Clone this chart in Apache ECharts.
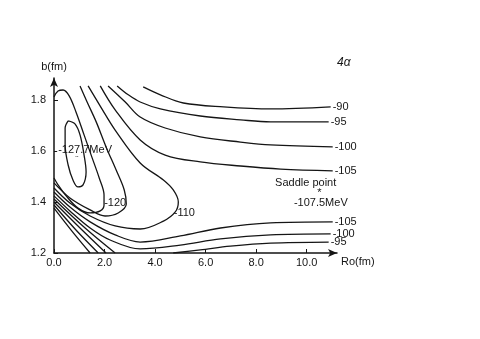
<!DOCTYPE html>
<html>
<head>
<meta charset="utf-8">
<script src="https://cdn.jsdelivr.net/npm/echarts@6/dist/echarts.min.js"></script>
<style>
  html, body { margin: 0; padding: 0; background: #fff; }
  #chart { width: 480px; height: 339px; }
</style>
</head>
<body>
<div id="chart"></div>
<script>
// axis ticks
const xTickLabels = ['0.0', '2.0', '4.0', '6.0', '8.0', '10.0']
const yTickLabels = ['1.2', '1.4', '1.6', '1.8']

// contour lines, points as [Ro (fm), b (fm)]
const c125 = [[0.56, 1.718], [0.83, 1.706], [1.03, 1.663], [1.19, 1.584], [1.27, 1.518], [1.15, 1.467],
  [0.95, 1.459], [0.75, 1.486], [0.56, 1.545], [0.44, 1.624], [0.44, 1.690], [0.56, 1.718]]
const c120 = [[0, 1.812], [0.16, 1.835], [0.36, 1.839], [0.60, 1.816], [0.87, 1.753], [1.19, 1.663],
  [1.51, 1.573], [1.79, 1.494], [1.98, 1.427], [1.98, 1.388], [1.83, 1.365], [1.43, 1.357],
  [0.95, 1.376], [0.48, 1.424], [0.16, 1.467], [0, 1.494]]
const c115 = [[0, 1.475], [0.63, 1.416], [1.43, 1.369], [2.02, 1.345], [2.54, 1.357], [2.86, 1.392],
  [2.78, 1.447], [2.46, 1.525], [2.06, 1.616], [1.67, 1.714], [1.31, 1.792], [1.03, 1.855]]
const c110 = [[0, 1.455], [0.63, 1.396], [1.43, 1.345], [2.42, 1.306], [3.41, 1.294], [4.33, 1.325],
  [4.80, 1.361], [4.92, 1.400], [4.72, 1.447], [4.33, 1.486], [3.41, 1.553], [2.42, 1.682],
  [1.83, 1.776], [1.35, 1.855]]
const upper105 = [[1.83, 1.855], [2.42, 1.761], [3.41, 1.643], [4.40, 1.584], [5.79, 1.557],
  [7.38, 1.541], [8.97, 1.529], [11.03, 1.522]]
const upper100 = [[2.14, 1.855], [2.82, 1.792], [3.41, 1.733], [4.40, 1.690], [5.79, 1.655],
  [7.38, 1.635], [8.57, 1.624], [11.03, 1.616]]
const upper95 = [[2.50, 1.855], [2.94, 1.820], [3.41, 1.792], [4.21, 1.765], [5.79, 1.737],
  [7.38, 1.722], [8.57, 1.714], [10.87, 1.714]]
const upper90 = [[3.53, 1.851], [4.21, 1.820], [5.12, 1.788], [6.71, 1.773], [8.57, 1.765], [10.95, 1.773]]
const lower105 = [[0, 1.439], [0.63, 1.380], [1.43, 1.322], [2.42, 1.271], [3.41, 1.243], [5.0, 1.267],
  [6.59, 1.298], [8.57, 1.318], [11.03, 1.322]]
const lower100 = [[0, 1.424], [0.63, 1.365], [1.43, 1.298], [2.22, 1.251], [3.41, 1.216], [5.0, 1.231],
  [6.59, 1.255], [8.57, 1.271], [10.95, 1.275]]
const lower95 = [[4.72, 1.2], [5.79, 1.212], [6.98, 1.227], [8.57, 1.239], [10.87, 1.243]]
const corner95 = [[0, 1.412], [1.23, 1.298], [2.42, 1.2]]
const corner90 = [[0, 1.400], [1.03, 1.298], [2.06, 1.2]]
const corner85 = [[0, 1.388], [0.87, 1.290], [1.75, 1.2]]
const corner80 = [[0, 1.376], [0.71, 1.286], [1.43, 1.2]]

// text placed on the plot, [Ro, b, text]
const plotTexts = [
  [2.42, 1.396, '-120'],
  [5.16, 1.357, '-110'],
  [0.91, 1.573, '*'],
  [1.23, 1.602, '-127.7MeV'],
  [10.5, 1.435, '*'],
  [9.96, 1.475, 'Saddle point'],
  [10.56, 1.396, '-107.5MeV']
]

const ink = '#151515'
const font = 'Liberation Sans, DejaVu Sans, sans-serif'

function contour(name, data, labelled) {
  return {
    name,
    type: 'line',
    data,
    smooth: 0.35,
    symbol: 'none',
    silent: true,
    lineStyle: { color: ink, width: 1.3 },
    endLabel: {
      show: labelled,
      formatter: '{a}',
      distance: 2,
      color: ink,
      fontSize: 11,
      fontFamily: font
    }
  }
}

const chart = echarts.init(document.getElementById('chart'))

chart.setOption({
  animation: false,
  backgroundColor: '#fff',
  title: {
    text: '4α',
    left: 332,
    top: 52,
    textStyle: { fontSize: 12, fontStyle: 'italic', fontWeight: 'normal', color: ink, fontFamily: font }
  },
  grid: { left: 54, right: 143, top: 78, bottom: 86 },
  xAxis: {
    type: 'value',
    min: 0,
    max: 11.2,
    interval: 2,
    name: 'Ro(fm)',
    nameLocation: 'end',
    nameGap: 4,
    nameTextStyle: { color: ink, fontSize: 11, fontFamily: font, verticalAlign: 'top', padding: [3, 0, 0, 0] },
    axisLine: { lineStyle: { color: ink, width: 1.5 }, symbol: ['none', 'arrow'], symbolSize: [6, 9] },
    axisTick: { inside: true, length: 4, lineStyle: { color: ink } },
    axisLabel: {
      color: ink,
      fontSize: 11,
      fontFamily: font,
      margin: 4,
      showMaxLabel: false,
      formatter: v => xTickLabels[Math.round(v / 2)] ?? ''
    },
    splitLine: { show: false }
  },
  yAxis: {
    type: 'value',
    min: 1.2,
    max: 1.886,
    interval: 0.2,
    name: 'b(fm)',
    nameLocation: 'end',
    nameGap: 6,
    nameTextStyle: { color: ink, fontSize: 11, fontFamily: font, align: 'center' },
    axisLine: { lineStyle: { color: ink, width: 1.5 }, symbol: ['none', 'arrow'], symbolSize: [6, 9] },
    axisTick: { inside: true, length: 4, lineStyle: { color: ink } },
    axisLabel: {
      color: ink,
      fontSize: 11,
      fontFamily: font,
      margin: 8,
      showMaxLabel: false,
      formatter: v => yTickLabels[Math.round((v - 1.2) / 0.2)] ?? ''
    },
    splitLine: { show: false }
  },
  series: [
    contour('-125', c125, false),
    contour('-120', c120, false),
    contour('-115', c115, false),
    contour('-110', c110, false),
    contour('-105', upper105, true),
    contour('-100', upper100, true),
    contour('-95', upper95, true),
    contour('-90', upper90, true),
    contour('-105', lower105, true),
    contour('-100', lower100, true),
    contour('-95', lower95, true),
    contour('c95', corner95, false),
    contour('c90', corner90, false),
    contour('c85', corner85, false),
    contour('c80', corner80, false),
    {
      type: 'scatter',
      silent: true,
      symbolSize: 0,
      itemStyle: { opacity: 1 },
      data: plotTexts.map(t => ({ value: [t[0], t[1]], name: t[2] })),
      label: {
        show: true,
        position: 'inside',
        formatter: '{b}',
        color: ink,
        fontSize: 11,
        fontFamily: font,
        backgroundColor: '#fff',
        padding: [0, 1]
      }
    }
  ]
})
</script>
</body>
</html>
